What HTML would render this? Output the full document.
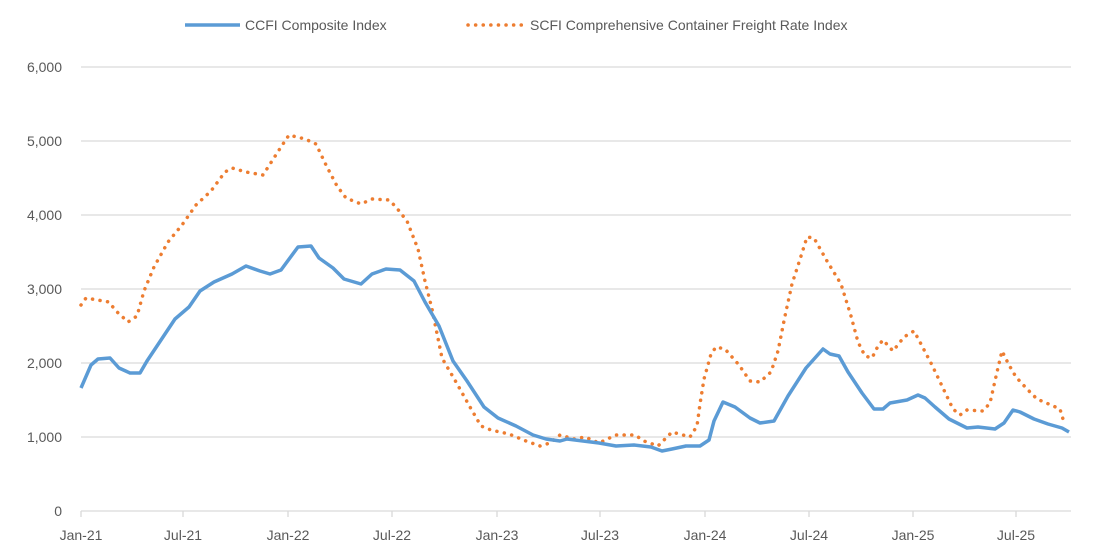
<!DOCTYPE html>
<html><head><meta charset="utf-8"><style>
html,body{margin:0;padding:0;background:#fff;}
svg{display:block;font-family:"Liberation Sans",sans-serif;}
</style></head><body>
<svg width="1096" height="549" viewBox="0 0 1096 549" xmlns="http://www.w3.org/2000/svg">
<g stroke="#d9d9d9" stroke-width="1.3">
<line x1="81" y1="67" x2="1071" y2="67"/>
<line x1="81" y1="141" x2="1071" y2="141"/>
<line x1="81" y1="215" x2="1071" y2="215"/>
<line x1="81" y1="289" x2="1071" y2="289"/>
<line x1="81" y1="363" x2="1071" y2="363"/>
<line x1="81" y1="437" x2="1071" y2="437"/>
<line x1="81" y1="511" x2="1071" y2="511"/>
<line x1="81" y1="511" x2="81" y2="517"/><line x1="183" y1="511" x2="183" y2="517"/>
<line x1="288" y1="511" x2="288" y2="517"/><line x1="392" y1="511" x2="392" y2="517"/>
<line x1="497" y1="511" x2="497" y2="517"/><line x1="600" y1="511" x2="600" y2="517"/>
<line x1="705" y1="511" x2="705" y2="517"/><line x1="809" y1="511" x2="809" y2="517"/>
<line x1="913" y1="511" x2="913" y2="517"/><line x1="1016" y1="511" x2="1016" y2="517"/>
</g>
<g fill="#595959" font-size="14" text-anchor="end">
<text x="62" y="72">6,000</text><text x="62" y="146">5,000</text><text x="62" y="220">4,000</text>
<text x="62" y="294">3,000</text><text x="62" y="368">2,000</text><text x="62" y="442">1,000</text>
<text x="62" y="516">0</text>
</g>
<g fill="#595959" font-size="14" text-anchor="middle">
<text x="81" y="540">Jan-21</text><text x="183" y="540">Jul-21</text><text x="288" y="540">Jan-22</text>
<text x="392" y="540">Jul-22</text><text x="497" y="540">Jan-23</text><text x="600" y="540">Jul-23</text>
<text x="705" y="540">Jan-24</text><text x="809" y="540">Jul-24</text><text x="913" y="540">Jan-25</text>
<text x="1016" y="540">Jul-25</text>
</g>
<polyline fill="none" stroke="#ED7D31" stroke-width="3.5" stroke-linecap="round" stroke-dasharray="0.1 7.5"
points="81,305 86,298 109,302 116,311 128,322 137,316 144,291 154,267 168,242 182,225 196,205 211,191 225,172 232,168 246,172 263,175 272,161 281,147 289,135 305,139 316,144 326,165 337,186 346,198 361,204 372,199 389,200 396,207 407,221 418,249 425,281 432,309 442,358 456,382 470,407 481,426 491,430 509,434 526,441 540,446 550,443 560,435 574,439 585,437 599,443 616,435 635,435 644,441 658,446 672,432 690,437 697,426 700,404 704,379 711,354 716,347 725,349 739,365 750,381 760,382 771,372 778,351 785,316 792,284 802,253 807,237 814,238 827,261 841,284 851,316 858,342 865,356 872,358 878,346 883,340 893,351 904,337 914,331 921,344 932,365 942,386 953,409 960,415 967,410 983,411 990,403 997,372 1002,351 1009,365 1016,377 1027,389 1037,399 1051,405 1060,409 1062,416 1065,425"/>
<polyline fill="none" stroke="#5B9BD5" stroke-width="3.5" stroke-linejoin="round"
points="81,388 91,365 98,359 110,358 119,368 130,373 140,373 147,361 161,340 175,319 189,307 200,291 214,282 232,274 246,266 260,271 270,274 281,270 298,247 311,246 319,258 333,268 344,279 361,284 372,274 386,269 400,270 414,281 425,302 439,326 453,361 467,381 484,407 498,418 516,426 533,435 546,439 560,441 567,439 599,443 616,446 634,445 651,447 662,451 672,449 686,446 700,446 709,440 714,421 723,402 735,407 750,418 760,423 774,421 788,396 806,368 823,349 830,354 839,356 848,372 862,393 874,409 883,409 890,403 907,400 918,395 925,398 935,407 949,419 967,428 978,427 995,429 1004,423 1013,410 1020,412 1034,419 1048,424 1062,428 1069,432"/>
<line x1="185" y1="25" x2="240" y2="25" stroke="#5B9BD5" stroke-width="3.5"/>
<text x="245" y="30" font-size="14" fill="#595959">CCFI Composite Index</text>
<line x1="468" y1="25" x2="522" y2="25" stroke="#ED7D31" stroke-width="3.5" stroke-linecap="round" stroke-dasharray="0.1 7.5"/>
<text x="530" y="30" font-size="14" fill="#595959">SCFI Comprehensive Container Freight Rate Index</text>
</svg>
</body></html>
